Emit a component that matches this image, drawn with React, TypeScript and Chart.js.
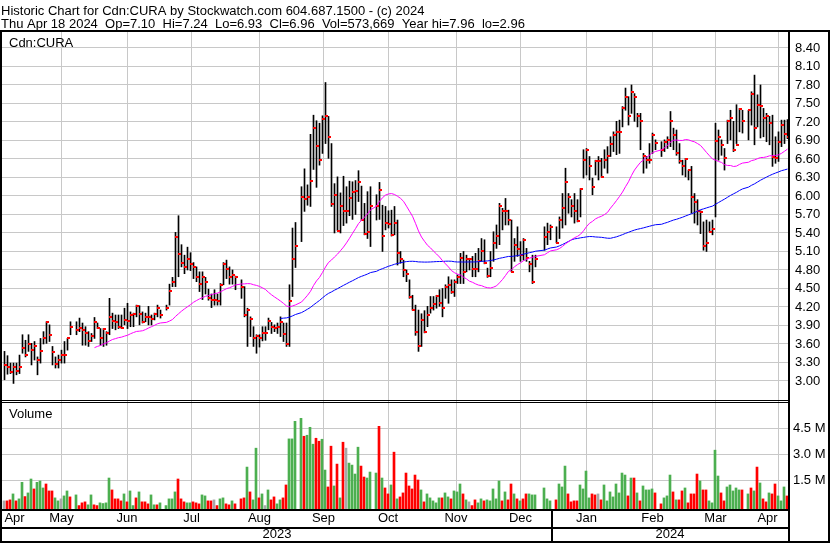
import React, { useEffect, useRef } from "react";
import { Chart, registerables } from "chart.js";

Chart.register(...registerables);

const FONT = '"Liberation Sans", Arial, Helvetica, sans-serif';
Chart.defaults.font.family = FONT;

// ---------- texts ----------
const headerLine1 = "Historic Chart for Cdn:CURA by Stockwatch.com 604.687.1500 - (c) 2024";
const headerLine2 = "Thu Apr 18 2024  Op=7.10  Hi=7.24  Lo=6.93  Cl=6.96  Vol=573,669  Year hi=7.96  lo=2.96";
const symbolLabel = "Cdn:CURA";
const volumeLabel = "Volume";
const monthNames = ["Jan", "Feb", "Mar", "Apr", "May", "Jun", "Jul", "Aug", "Sep", "Oct", "Nov", "Dec"];

// ---------- calendar ----------
const firstDay = "2023-04-19";
const lastDay = "2024-04-18";
const holidays = [
  "2023-05-22", "2023-07-03", "2023-08-07", "2023-09-04", "2023-10-09",
  "2023-12-25", "2023-12-26", "2024-01-01", "2024-02-19", "2024-03-29",
];

// ---------- daily data (one entry per trading day) ----------
const highs = [
  // Apr 2023
  3.48, 3.41, 3.29, 3.29, 3.29, 3.42, 3.75, 3.66,
  // May
  3.75, 3.61, 3.64, 3.39, 3.69, 3.80, 3.96, 3.91, 3.56, 3.39, 3.42, 3.50, 3.64, 3.69, 3.96, 3.96, 4.02, 3.94, 3.88, 3.80, 3.77, 4.03,
  // Jun
  3.94, 3.85, 3.85, 3.80, 4.34, 4.10, 4.07, 4.07, 4.07, 4.18, 4.26, 4.12, 4.10, 4.23, 4.22, 4.12, 4.10, 4.21, 4.07, 4.10, 4.23, 4.15,
  // Jul
  4.23, 4.57, 4.68, 5.41, 5.68, 5.21, 5.04, 5.17, 5.08, 4.92, 4.85, 4.77, 4.77, 4.68, 4.49, 4.41, 4.48, 4.41, 4.58, 4.92,
  // Aug
  4.96, 4.85, 4.80, 4.70, 4.64, 4.53, 4.18, 4.04, 3.88, 3.75, 3.75, 3.88, 3.88, 4.02, 3.95, 3.91, 3.94, 4.04, 3.94, 3.94, 4.56, 5.48,
  // Sep
  5.57, 6.15, 6.44, 6.18, 7.00, 7.31, 7.22, 7.18, 7.30, 7.84, 7.29, 6.85, 6.20, 6.31, 6.05, 6.32, 6.15, 6.24, 6.23, 6.25,
  // Oct
  6.41, 6.16, 5.88, 6.07, 6.15, 6.02, 6.22, 5.85, 5.83, 5.76, 5.77, 5.83, 5.61, 5.10, 4.96, 4.80, 4.64, 4.39, 4.23, 4.15, 4.09,
  // Nov
  4.14, 4.21, 4.37, 4.37, 4.39, 4.48, 4.50, 4.56, 4.69, 4.64, 4.64, 4.72, 5.07, 5.10, 5.04, 4.99, 5.02, 5.07, 5.15, 5.31, 5.29, 4.83,
  // Dec
  5.10, 5.42, 5.53, 5.88, 5.80, 5.96, 5.77, 5.61, 5.31, 5.50, 5.26, 5.31, 5.15, 4.94, 5.04, 5.04, 5.50, 5.56, 5.53,
  // Jan 2024
  5.50, 5.66, 6.04, 6.45, 6.04, 5.94, 6.04, 5.94, 6.12, 6.75, 6.77, 6.64, 6.29, 6.58, 6.64, 6.61, 6.75, 6.80, 6.96, 7.04, 7.21, 7.23,
  // Feb
  7.45, 7.75, 7.61, 7.80, 7.66, 7.34, 7.34, 6.69, 6.64, 6.85, 7.02, 6.91, 6.88, 6.91, 6.96, 7.37, 7.10, 7.07, 6.85, 6.58,
  // Mar
  6.61, 6.42, 6.48, 6.04, 5.94, 5.76, 5.58, 5.61, 5.58, 5.61, 7.18, 7.07, 6.91, 6.77, 7.23, 7.39, 7.21, 7.48, 7.42, 7.39,
  // Apr
  7.39, 7.69, 7.96, 7.64, 7.80, 7.42, 7.34, 7.29, 7.31, 6.96, 7.04, 7.23, 7.23, 7.24,
];

const lows = [
  // Apr 2023
  3.02, 3.11, 3.12, 2.96, 3.10, 3.12, 3.45, 3.39,
  // May
  3.48, 3.26, 3.34, 3.10, 3.29, 3.60, 3.61, 3.64, 3.26, 3.21, 3.21, 3.29, 3.29, 3.50, 3.75, 3.75, 3.80, 3.58, 3.58, 3.56, 3.64, 3.69,
  // Jun
  3.85, 3.58, 3.56, 3.58, 3.75, 3.85, 3.83, 3.85, 3.85, 3.91, 3.85, 3.88, 3.88, 4.04, 3.91, 3.94, 3.96, 3.91, 3.91, 3.99, 4.04, 4.02,
  // Jul
  4.15, 4.23, 4.53, 4.53, 4.69, 4.85, 4.74, 4.80, 4.79, 4.66, 4.61, 4.45, 4.32, 4.41, 4.31, 4.19, 4.23, 4.23, 4.23, 4.56,
  // Aug
  4.66, 4.57, 4.57, 4.48, 4.34, 4.04, 3.56, 3.72, 3.56, 3.45, 3.55, 3.65, 3.66, 3.83, 3.77, 3.80, 3.77, 3.72, 3.64, 3.56, 3.56, 4.37,
  // Sep
  4.84, 5.26, 5.75, 5.85, 5.83, 6.43, 6.14, 6.50, 6.69, 6.85, 6.61, 5.83, 5.40, 5.44, 5.40, 5.52, 5.56, 5.68, 5.62, 5.70,
  // Oct
  5.91, 5.60, 5.37, 5.31, 5.18, 5.61, 5.62, 5.10, 5.45, 5.48, 5.35, 5.37, 4.88, 4.91, 4.69, 4.61, 4.34, 4.15, 3.74, 3.48, 3.56,
  // Nov
  3.78, 3.88, 4.10, 4.15, 4.18, 4.21, 4.04, 4.34, 4.26, 4.42, 4.37, 4.58, 4.58, 4.58, 4.77, 4.80, 4.69, 4.69, 4.77, 4.94, 4.90, 4.68,
  // Dec
  4.69, 4.94, 5.15, 5.21, 5.45, 5.53, 5.53, 4.77, 4.94, 5.02, 4.94, 4.96, 4.94, 4.77, 4.58, 4.85, 5.12, 5.21, 5.29,
  // Jan 2024
  5.24, 5.31, 5.48, 5.53, 5.72, 5.66, 5.56, 5.58, 5.66, 6.29, 6.34, 6.26, 6.02, 6.34, 6.26, 6.31, 6.45, 6.37, 6.64, 6.72, 6.67, 6.69,
  // Feb
  7.12, 7.39, 7.15, 7.34, 7.21, 7.12, 6.75, 6.37, 6.45, 6.53, 6.69, 6.75, 6.64, 6.72, 6.77, 6.80, 6.75, 6.66, 6.53, 6.34,
  // Mar
  6.31, 6.26, 5.72, 5.56, 5.53, 5.39, 5.12, 5.10, 5.42, 5.37, 5.66, 6.58, 6.66, 6.42, 6.85, 6.91, 6.72, 6.85, 7.04, 7.02,
  // Apr
  6.91, 7.15, 6.83, 7.12, 6.94, 6.96, 6.88, 6.83, 6.48, 6.53, 6.56, 6.80, 6.85, 6.93,
];

const closes = [
  // Apr 2023
  3.26, 3.22, 3.14, 3.23, 3.16, 3.23, 3.54, 3.42,
  // May
  3.60, 3.50, 3.56, 3.34, 3.49, 3.69, 3.96, 3.75, 3.47, 3.28, 3.34, 3.42, 3.42, 3.69, 3.88, 3.83, 3.86, 3.83, 3.78, 3.65, 3.73, 3.95,
  // Jun
  3.86, 3.70, 3.85, 3.78, 4.04, 3.98, 3.96, 3.88, 3.86, 3.99, 3.98, 4.07, 4.09, 4.22, 4.09, 3.96, 4.03, 4.04, 4.00, 4.08, 4.18, 4.07,
  // Jul
  4.18, 4.46, 4.61, 5.34, 5.06, 4.92, 4.85, 4.98, 4.89, 4.85, 4.69, 4.58, 4.68, 4.60, 4.35, 4.31, 4.31, 4.29, 4.56, 4.89,
  // Aug
  4.82, 4.68, 4.72, 4.68, 4.53, 4.07, 4.15, 4.01, 3.70, 3.73, 3.69, 3.78, 3.78, 3.97, 3.88, 3.86, 3.88, 3.95, 3.76, 3.60, 4.29, 4.98,
  // Sep
  5.19, 5.99, 5.95, 5.99, 6.25, 7.11, 6.81, 6.59, 7.25, 7.29, 6.95, 5.87, 6.02, 5.44, 5.84, 5.75, 5.75, 5.97, 6.07, 6.08,
  // Oct
  6.22, 5.61, 5.38, 5.42, 5.83, 5.83, 6.09, 5.35, 5.56, 5.54, 5.37, 5.56, 5.08, 4.98, 4.80, 4.74, 4.36, 4.15, 3.80, 3.57, 3.99,
  // Nov
  3.80, 4.07, 4.19, 4.25, 4.38, 4.27, 4.19, 4.52, 4.55, 4.45, 4.61, 4.69, 4.99, 4.77, 4.98, 4.98, 4.82, 4.81, 4.94, 5.10, 4.92, 4.70,
  // Dec
  4.84, 5.23, 5.35, 5.84, 5.76, 5.76, 5.61, 4.77, 5.21, 5.14, 5.04, 5.29, 5.00, 4.90, 4.61, 4.97, 5.34, 5.42, 5.50,
  // Jan 2024
  5.24, 5.61, 5.80, 6.23, 5.98, 5.84, 5.76, 5.60, 6.11, 6.59, 6.74, 6.49, 6.15, 6.57, 6.56, 6.31, 6.59, 6.65, 6.85, 6.99, 7.04, 7.03,
  // Feb
  7.43, 7.61, 7.29, 7.69, 7.61, 7.29, 7.22, 6.65, 6.58, 6.58, 6.99, 6.86, 6.75, 6.87, 6.91, 7.22, 6.99, 6.69, 6.56, 6.48,
  // Mar
  6.60, 6.42, 5.99, 5.91, 5.75, 5.74, 5.19, 5.24, 5.42, 5.46, 6.89, 6.95, 6.83, 6.61, 7.21, 7.26, 6.75, 6.83, 7.41, 7.22,
  // Apr
  7.39, 7.65, 7.10, 7.48, 7.46, 7.26, 7.29, 7.18, 6.63, 6.61, 6.88, 7.15, 7.00, 6.96,
];

// volume in thousands of shares
const volumes = [
  // Apr 2023
  288, 288, 346, 692, 288, 404, 1365, 538,
  // May
  750, 1558, 981, 1365, 1442, 1038, 1269, 865, 865, 462, 288, 404, 577, 865, 519, 635, 15, 173, 231, 58, 635, 58,
  // Jun
  15, 173, 135, 173, 1615, 923, 404, 404, 288, 692, 231, 865, 15, 462, 808, 231, 231, 115, 635, 58, 58, 173,
  // Jul
  15, 404, 404, 808, 1558, 404, 231, 173, 173, 231, 173, 115, 635, 577, 288, 288, 346, 15, 404, 462,
  // Aug
  115, 58, 288, 115, 404, 462, 2250, 808, 346, 3346, 462, 692, 15, 923, 346, 519, 115, 346, 462, 1212, 3885, 3885,
  // Sep
  4904, 5077, 4038, 4096, 4558, 3577, 3923, 3750, 3865, 2077, 1096, 3462, 1154, 2423, 462, 3692, 3346, 2481, 2365, 1846,
  // Oct
  3404, 2308, 1673, 1615, 1962, 1904, 4615, 1615, 1038, 692, 1212, 3115, 404, 519, 750, 1904, 1154, 981, 1788, 1500, 923,
  // Nov
  231, 692, 462, 288, 173, 462, 462, 750, 519, 404, 865, 808, 1269, 692, 346, 231, 15, 346, 173, 404, 288, 346,
  // Dec
  288, 981, 404, 1442, 288, 808, 346, 1269, 692, 404, 288, 404, 692, 692, 635, 635, 1038, 404, 288,
  // Jan 2024
  346, 1269, 1096, 2308, 692, 231, 288, 288, 1212, 981, 2019, 462, 692, 635, 692, 346, 1212, 288, 808, 519, 1269, 750,
  // Feb
  1904, 1788, 577, 1615, 1615, 750, 288, 1154, 923, 923, 981, 750, 115, 462, 577, 1788, 808, 346, 346, 865,
  // Mar
  1038, 173, 692, 692, 1846, 1442, 923, 923, 288, 173, 3231, 1731, 750, 288, 1096, 1212, 865, 1038, 923, 923,
  // Apr
  692, 1038, 865, 2250, 1327, 404, 231, 750, 692, 1269, 577, 288, 1096, 574,
];

// day direction: g = up, r = down, n = unchanged
const volumeDirection =
  "nrrgrggr" +
  "ggrgggrrrggnggrgrrrggr" +
  "rggggrrrrgrggrgrrrggrg" +
  "ggggrrrggrrrggrrnrgg" +
  "rrgrrrgrggrgngrrggrrgg" +
  "ggrgggrrggrrgrgrnggg" +
  "grrgggrgrrgrgrrrrrrrg" +
  "rgggggrggrgggrgnrrggrg" +
  "ggggrgrrgrgrrgggggg" +
  "rgggrrrrggggrrnrgggggg" +
  "ggrgrgrggggrrgggrgrr" +
  "grrrrgrrggggrrgggggr" +
  "grgrgrrgrrgggr";

const priceTicks = [3.0, 3.3, 3.6, 3.9, 4.2, 4.5, 4.8, 5.1, 5.4, 5.7, 6.0, 6.3, 6.6, 6.9, 7.2, 7.5, 7.8, 8.1, 8.4];
const volumeTicks = [1500, 3000, 4500];
const volumeTickLabels = ["1.5 M", "3.0 M", "4.5 M"];
const shortAverage = 30;
const longAverage = 90;

// ---------- scale ranges ----------
const PRICE_MIN = 0.924;
const PRICE_MAX = 8.659;
const VOL_MIN = -183;
const VOL_MAX = 27496;

const GRID = "#c8c8c8";
const GREEN = "#4caf50";
const RED = "#ff0000";
const GREY = "#a8a8a8";

function buildCalendar() {
  const slots: any[] = [];
  const start = Date.parse(firstDay + "T00:00:00Z");
  const end = Date.parse(lastDay + "T00:00:00Z");
  for (let t = start; t <= end; t += 86400000) {
    const d = new Date(t);
    const wd = d.getUTCDay();
    if (wd === 0 || wd === 6) continue;
    const key = d.toISOString().slice(0, 10);
    slots.push({ key, year: d.getUTCFullYear(), month: d.getUTCMonth(), day: d.getUTCDate(), holiday: holidays.includes(key) });
  }
  return slots;
}

function sma(values: number[], period: number) {
  return values.map((_, i) => {
    if (i < period - 1) return null;
    let s = 0;
    for (let k = i - period + 1; k <= i; k++) s += values[k];
    return s / period;
  });
}

export default function App() {
  const ref = useRef<HTMLCanvasElement | null>(null);

  useEffect(() => {
    document.body.style.margin = "0";
    const canvas = ref.current;
    if (!canvas) return;

    const slots = buildCalendar();
    const tradingSlots: number[] = [];
    slots.forEach((s, i) => { if (!s.holiday) tradingSlots.push(i); });

    const X_MIN = -5 / 6;
    const X_MAX = slots.length - 5 / 6;

    // month boundaries
    const boundaries: any[] = [];
    for (let i = 1; i < slots.length; i++) {
      if (slots[i].month !== slots[i - 1].month) {
        const weekendStart = slots[i].day > 1;
        boundaries.push({ value: i - 0.5 - (weekendStart ? 4 / 3 : 0), month: slots[i].month, year: slots[i].year });
      }
    }
    const edges = [X_MIN, ...boundaries.map((b) => b.value), X_MAX];
    const monthLabels = [monthNames[slots[0].month], ...boundaries.map((b) => monthNames[b.month])];
    const monthSegments = monthLabels.map((label, i) => ({ label, center: (edges[i] + edges[i + 1]) / 2 }));
    const jan = boundaries.find((b) => b.month === 0);
    const yearSegments = [
      { label: String(slots[0].year), center: (X_MIN + jan.value) / 2 },
      { label: String(jan.year), center: (jan.value + X_MAX) / 2 },
    ];

    const n = Math.min(highs.length, lows.length, closes.length, tradingSlots.length);
    const rangePts = [];
    const closePts = [];
    for (let i = 0; i < n; i++) {
      rangePts.push({ x: tradingSlots[i], y: [lows[i], highs[i]] });
      closePts.push({ x: tradingSlots[i], y: closes[i] });
    }
    const maS = sma(closes.slice(0, n), shortAverage);
    const maL = sma(closes.slice(0, n), longAverage);
    const maSPts = [];
    const maLPts = [];
    for (let i = 0; i < n; i++) {
      if (maS[i] !== null) maSPts.push({ x: tradingSlots[i], y: maS[i] });
      if (maL[i] !== null) maLPts.push({ x: tradingSlots[i], y: maL[i] });
    }
    const volPts = [];
    const volColors = [];
    for (let i = 0; i < Math.min(volumes.length, tradingSlots.length); i++) {
      volPts.push({ x: tradingSlots[i], y: volumes[i] });
      const d = volumeDirection[i];
      volColors.push(d === "g" ? GREEN : d === "r" ? RED : GREY);
    }

    // close tick marker
    const tick = document.createElement("canvas");
    tick.width = 5;
    tick.height = 2;
    const tctx = tick.getContext("2d");
    if (tctx) {
      tctx.fillStyle = RED;
      tctx.fillRect(2, 0, 3, 2);
    }

    const framePlugin = {
      id: "frame",
      beforeDatasetsDraw(chart: any) {
        const { ctx, chartArea: a } = chart;
        const yv = chart.scales.yv;
        ctx.save();
        ctx.fillStyle = GRID;
        volumeTicks.forEach((v) => {
          const py = Math.round(yv.getPixelForValue(v));
          ctx.fillRect(a.left, py, a.right - a.left, 1);
        });
        ctx.restore();
        ctx.imageSmoothingEnabled = false;
      },
      afterDatasetsDraw(chart: any) {
        chart.ctx.imageSmoothingEnabled = true;
      },
      afterDraw(chart: any) {
        const { ctx, chartArea: a, width, height } = chart;
        const yv = chart.scales.yv;
        ctx.save();
        ctx.fillStyle = "#000";
        ctx.font = `13px ${FONT}`;
        ctx.textAlign = "left";
        ctx.textBaseline = "alphabetic";
        ctx.fillText(headerLine1, 1, 15);
        ctx.fillText(headerLine2, 1, 28);
        ctx.fillText(symbolLabel, a.left + 7, a.top + 15);
        const sepY = a.bottom - 109;
        ctx.fillText(volumeLabel, a.left + 7, sepY + 18);
        ctx.textBaseline = "middle";
        volumeTicks.forEach((v, i) => {
          ctx.fillText(volumeTickLabels[i], a.right + 5, yv.getPixelForValue(v) + 0.5);
        });
        ctx.fillRect(0, a.top - 2, width, 2);
        ctx.fillRect(0, a.top, 2, height - a.top);
        ctx.fillRect(a.right, a.top, 2, height - a.top);
        ctx.fillRect(width - 2, a.top, 2, height - a.top);
        ctx.fillRect(a.left, sepY, a.right - a.left, 1);
        ctx.fillRect(a.left, sepY + 2, a.right - a.left, 1);
        ctx.fillRect(0, a.bottom, a.right + 2, 2);
        ctx.fillRect(0, a.bottom + 18, a.right + 2, 2);
        ctx.fillRect(0, height - 2, width, 2);
        const yb = chart.scales.x.getPixelForValue(jan.value);
        ctx.fillRect(Math.round(yb) - 1, a.bottom, 2, height - a.bottom);
        ctx.restore();
      },
    };

    const labelFont = { size: 13, family: FONT };

    const chart = new Chart(canvas, {
      type: "bar",
      data: {
        datasets: [
          { type: "line", label: "MA" + shortAverage, data: maSPts, borderColor: "#ff00ff", borderWidth: 1, pointRadius: 0, fill: false, tension: 0, xAxisID: "x", yAxisID: "y", order: 0 },
          { type: "line", label: "MA" + longAverage, data: maLPts, borderColor: "#0000ff", borderWidth: 1, pointRadius: 0, fill: false, tension: 0, xAxisID: "x", yAxisID: "y", order: 1 },
          { type: "line", label: "Close", data: closePts, showLine: false, pointStyle: tick, pointRadius: 2, pointHoverRadius: 2, pointBorderWidth: 0, xAxisID: "x", yAxisID: "y", order: 2 },
          { type: "bar", label: "Range", data: rangePts, backgroundColor: "#000", borderWidth: 0, barThickness: 1, grouped: false, xAxisID: "x", yAxisID: "y", order: 3 },
          { type: "bar", label: "Volume", data: volPts, backgroundColor: volColors, borderWidth: 0, barThickness: 2, grouped: false, base: VOL_MIN, xAxisID: "xv", yAxisID: "yv", order: 4 },
        ],
      } as any,
      options: {
        animation: false,
        responsive: false,
        events: [],
        layout: { padding: { left: 2, top: 32, right: 0, bottom: 0 } },
        plugins: { legend: { display: false }, tooltip: { enabled: false }, title: { display: false } },
        scales: {
          x: {
            type: "linear", position: "bottom", min: X_MIN, max: X_MAX, weight: 0, offset: false,
            grid: { color: GRID, drawTicks: false, lineWidth: 1 },
            border: { display: false },
            ticks: { display: false },
            afterBuildTicks: (s: any) => { s.ticks = boundaries.map((b) => ({ value: b.value })); },
            afterFit: (s: any) => { s.height = 0; },
          },
          xm: {
            type: "linear", position: "bottom", min: X_MIN, max: X_MAX, weight: 1, offset: false,
            grid: { display: false, drawTicks: false },
            border: { display: false },
            ticks: { autoSkip: false, maxRotation: 0, padding: 2, color: "#000", font: labelFont, callback: (_v: any, i: number) => monthSegments[i] ? monthSegments[i].label : "" },
            afterBuildTicks: (s: any) => { s.ticks = monthSegments.map((m) => ({ value: m.center })); },
            afterFit: (s: any) => { s.height = 18; },
          },
          xy: {
            type: "linear", position: "bottom", min: X_MIN, max: X_MAX, weight: 2, offset: false,
            grid: { display: false, drawTicks: false },
            border: { display: false },
            ticks: { autoSkip: false, maxRotation: 0, padding: 0, color: "#000", font: labelFont, callback: (_v: any, i: number) => yearSegments[i] ? yearSegments[i].label : "" },
            afterBuildTicks: (s: any) => { s.ticks = yearSegments.map((m) => ({ value: m.center })); },
            afterFit: (s: any) => { s.height = 16; },
          },
          xv: { type: "linear", display: false, min: X_MIN + 1 / 6, max: X_MAX + 1 / 6, offset: false },
          yv: { type: "linear", display: false, min: VOL_MIN, max: VOL_MAX },
          y: {
            type: "linear", position: "right", weight: 1, min: PRICE_MIN, max: PRICE_MAX,
            grid: { color: GRID, drawTicks: false },
            border: { display: false },
            ticks: { padding: 7, color: "#000", font: labelFont, autoSkip: false, callback: (v: any) => Number(v).toFixed(2) },
            afterBuildTicks: (s: any) => { s.ticks = priceTicks.map((v) => ({ value: v })); },
            afterFit: (s: any) => { s.width = 42; },
          },
        },
      } as any,
      plugins: [framePlugin],
    });

    return () => chart.destroy();
  }, []);

  return (
    <div style={{ width: 830, height: 543, background: "#fff" }}>
      <canvas ref={ref} width={830} height={543} style={{ display: "block" }} />
    </div>
  );
}
